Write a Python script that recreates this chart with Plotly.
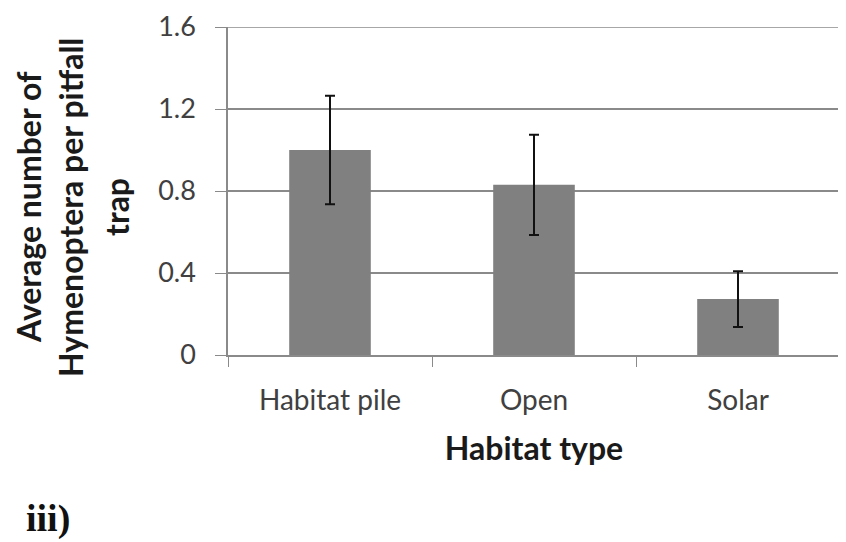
import plotly.graph_objects as go

# data
habitats = ["Habitat pile", "Open", "Solar"]
mean_counts = [1.0, 0.83, 0.273]
error_sizes = [0.265, 0.245, 0.136]
y_ticks = [0, 0.4, 0.8, 1.2, 1.6]
y_tick_labels = ["0", "0.4", "0.8", "1.2", "1.6"]
y_title_lines = ["Average number of", "Hymenoptera per pitfall", "trap"]

font_family = "Lato, Open Sans, sans-serif"
W, H = 846, 542
# the page body adds an 8px margin, so work in screen pixels minus that
OFF = 8
L, R, T, B = 228 - OFF, 6 + OFF, 27 - OFF, 187 + OFF


def paper_x(px):
    return (px - OFF - L) / (W - L - R)


def paper_y(py):
    return (H - B - (py - OFF)) / (H - T - B)


fig = go.Figure()
fig.add_trace(go.Bar(
    x=habitats,
    y=mean_counts,
    width=0.4,
    marker=dict(color="#808080", line=dict(width=0)),
    error_y=dict(type="data", array=error_sizes, visible=True,
                 color="#111111", thickness=2, width=5),
))

fig.update_layout(
    width=W, height=H,
    margin=dict(l=L, r=R, t=T, b=B),
    paper_bgcolor="white", plot_bgcolor="white",
    showlegend=False,
    font=dict(family=font_family, color="#404040"),
    xaxis=dict(
        automargin=False,
        showline=True, linecolor="#8a8a8a", linewidth=1.5,
        ticks="outside", tickson="boundaries", ticklen=10, tickcolor="#8a8a8a",
        tickfont=dict(size=28, color="#404040"), ticklabelstandoff=20,
        showgrid=False,
        title=dict(text="<b>Habitat type</b>", font=dict(size=32, color="#1a1a1a"), standoff=22),
    ),
    yaxis=dict(
        automargin=False,
        range=[0, 1.6], tickvals=y_ticks, ticktext=y_tick_labels,
        showline=True, linecolor="#8a8a8a", linewidth=1.5,
        ticks="outside", ticklen=11, tickcolor="#8a8a8a",
        tickfont=dict(size=27, color="#404040"), ticklabelstandoff=14,
        showgrid=True, gridcolor="#8a8a8a", gridwidth=1.5,
        zeroline=False,
    ),
)

# gridline at the top of the range
fig.add_hline(y=1.6, line=dict(color="#8a8a8a", width=1.5))

# y title: three rotated, centred lines
for line, px in zip(y_title_lines, [28, 70, 116]):
    fig.add_annotation(
        text="<b>%s</b>" % line,
        xref="paper", yref="paper", x=paper_x(px), y=paper_y(207),
        xanchor="center", yanchor="middle", textangle=-90, showarrow=False,
        font=dict(size=32, color="#1a1a1a", family=font_family),
    )

fig.add_annotation(
    text="<b>iii)</b>", xref="paper", yref="paper", x=paper_x(24), y=paper_y(518),
    xanchor="left", yanchor="middle", showarrow=False,
    font=dict(size=38, color="#111111", family="Liberation Serif, serif"),
)

fig.write_html("out.html")
